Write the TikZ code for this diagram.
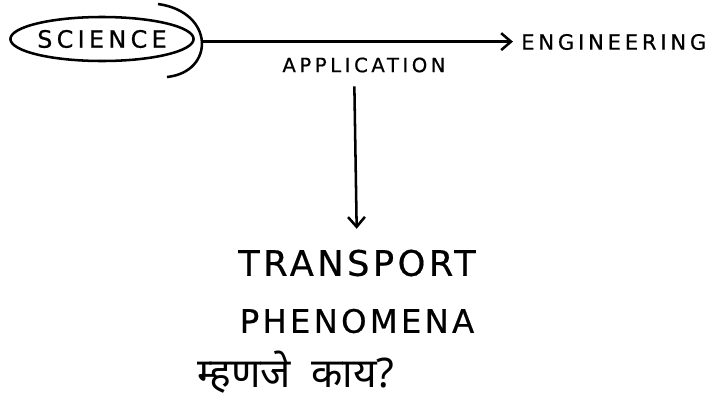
\documentclass[tikz,border=0pt]{standalone}
\usepackage{fontspec}
\setmainfont{DejaVu Sans}
\newfontfamily\handfont[LetterSpace=18,FakeBold=0.6]{DejaVu Sans}
\newfontfamily\bighandfont[LetterSpace=10,FakeBold=0.5]{DejaVu Sans}
\newfontfamily\marathifont[Script=Devanagari]{Noto Sans}
\usetikzlibrary{arrows.meta,positioning}
\usetikzlibrary{shapes.geometric}

\begin{document}
\begin{tikzpicture}[
      x=0.025cm,
      y=-0.025cm,
      myword/.style={
         inner sep=0pt,
         font=\handfont\fontsize{15}{17}\selectfont},
      mybig/.style={
         inner sep=0pt,
         font=\bighandfont\fontsize{25}{28}\selectfont},
      myarrow/.style={-{Straight Barb[length=7pt,width=12pt]}},
      line width=1.8pt,
      node distance=0.9cm and 1cm
      ]
      \useasboundingbox (0,0) rectangle (715,401);

      \node[ellipse,draw,minimum width=4.35cm,minimum height=1.1cm,myword,font=\handfont\fontsize{17}{19}\selectfont] (sci) at (102,39) {SCIENCE};
      \node[myword,anchor=west] (eng) at (520,42) {ENGINEERING};
      \node[myword,font=\handfont\fontsize{14}{16}\selectfont] (app) at (364,65) {APPLICATION};
      \node[mybig] (trans) at (357,263) {TRANSPORT};
      \node[mybig,font=\bighandfont\fontsize{23}{26}\selectfont,below=1.45cm of trans.center,anchor=center] (phen) {PHENOMENA};
      \node[inner sep=0pt,font=\marathifont\fontsize{29}{32}\selectfont] (kay) at (296,372) {म्हणजे\hspace{0.5em}काय?};

      % bracket round the science bubble
      \draw (158,4) .. controls (215,12) and (215,72) .. coordinate[pos=0.5] (rim) (167,77);

      \draw [myarrow,shorten >=5pt] (rim) -- (rim -| eng.west);
      \draw [myarrow,shorten <=9pt,shorten >=14pt] ([xshift=-7pt]app.south) -- (trans.north);
    \end{tikzpicture}
\end{document}
